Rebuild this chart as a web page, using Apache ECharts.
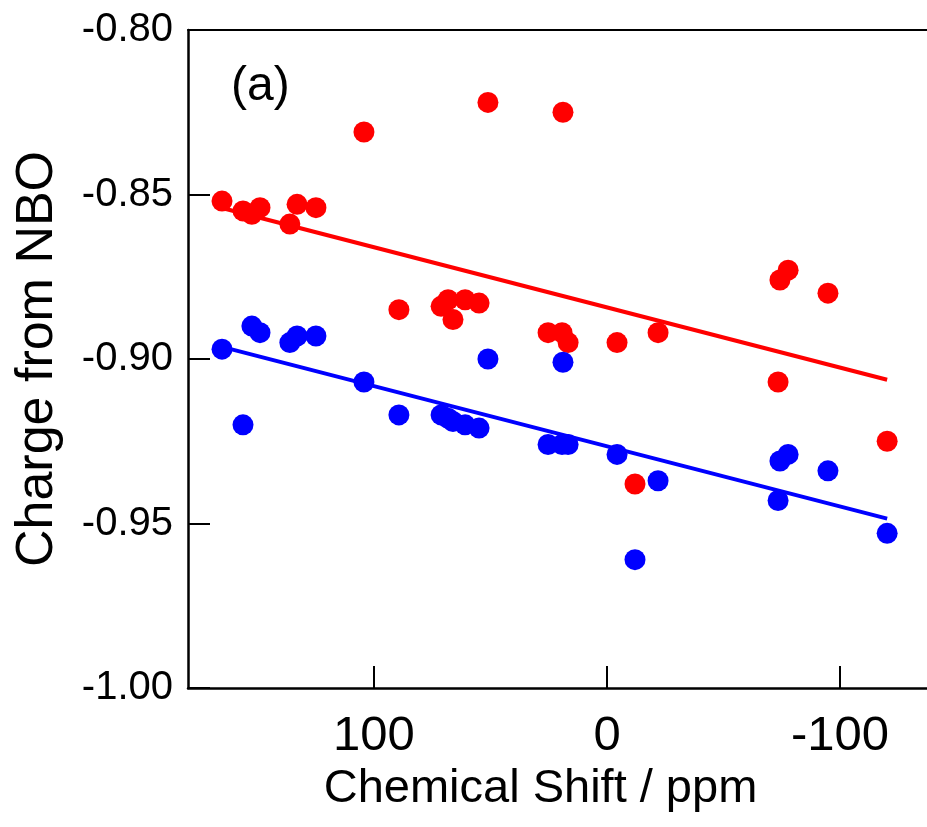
<!DOCTYPE html>
<html lang="en">
<head>
    <meta charset="UTF-8">
    <title>Charge from NBO vs Chemical Shift</title>
    <script src="https://cdn.jsdelivr.net/npm/echarts@6/dist/echarts.min.js"></script>
    <style type="text/css">
        html, body{
            margin: 0;
            padding: 0;
            background: #fff;
        }
        #main{
            width: 927px;
            height: 827px;
        }
    </style>
</head>
<body>
    <div id="main"></div>
    <script>
        // chemical shift (ppm) of each site, shared by both charge sets
        var shift = [165.2, 156.2, 152.4, 148.9, 136.1, 133.0, 124.9, 104.3, 89.3, 71.2, 68.2, 66.1, 60.9, 54.9, 51.1,
                     25.3, 19.3, 16.7, 18.9, -4.3, -12.0, -21.9, -74.2, -77.7, -73.4, -94.8, -120.2];
        var chargeRed = [-0.852, -0.855, -0.856, -0.854, -0.859, -0.853, -0.854, -0.831, -0.885, -0.884, -0.882, -0.888, -0.882, -0.883, -0.822,
                         -0.892, -0.892, -0.895, -0.825, -0.895, -0.938, -0.892, -0.876, -0.873, -0.907, -0.880, -0.925];
        var chargeBlue = [-0.897, -0.920, -0.890, -0.892, -0.895, -0.893, -0.893, -0.907, -0.917, -0.917, -0.918, -0.919, -0.920, -0.921, -0.900,
                          -0.926, -0.926, -0.926, -0.901, -0.929, -0.961, -0.937, -0.931, -0.929, -0.943, -0.934, -0.953];
        // fitted lines, end points
        var fitShift = [165.2, -120.2];
        var fitRed = [-0.8541, -0.9063];
        var fitBlue = [-0.8963, -0.9485];
        // tick labels
        var xTicks = [100, 0, -100];

        function pairs(xs, ys) {
            var out = [];
            for (var i = 0; i < xs.length; i++) {
                out.push([xs[i], ys[i]]);
            }
            return out;
        }

        var font = 'Liberation Sans, Arial, sans-serif';
        var xMin = -137.3, xMax = 179.8;   // the figure is cut off on the right
        var myChart = echarts.init(document.getElementById('main'));
        var option = {
            animation: false,
            backgroundColor: '#fff',
            title: {
                text: '(a)',
                left: 226,
                top: 58,
                textStyle: {
                    fontFamily: font,
                    fontSize: 48,
                    fontWeight: 'normal',
                    color: '#000'
                }
            },
            grid: {
                left: 188,
                top: 30,
                bottom: 139,
                right: 0
            },
            xAxis: [
                {
                    type: 'value',
                    inverse: true,
                    min: xMin,
                    max: xMax,
                    name: 'Chemical Shift / ppm',
                    nameLocation: 'middle',
                    nameGap: 64,
                    nameTextStyle: {
                        fontFamily: font,
                        fontSize: 47,
                        color: '#000',
                        padding: [0, 34, 0, 0]   // nudge the title left of the grid centre
                    },
                    axisLine: {
                        onZero: false,
                        lineStyle: { color: '#000', width: 2.5 }
                    },
                    axisTick: {
                        inside: true,
                        length: 22,
                        customValues: xTicks,
                        lineStyle: { color: '#000', width: 2 }
                    },
                    axisLabel: {
                        customValues: xTicks,
                        margin: 24,
                        fontFamily: font,
                        fontSize: 49,
                        color: '#000'
                    },
                    splitLine: { show: false }
                },
                {
                    // top frame line only
                    type: 'value',
                    position: 'top',
                    inverse: true,
                    min: xMin,
                    max: xMax,
                    axisLine: {
                        onZero: false,
                        lineStyle: { color: '#000', width: 2 }
                    },
                    axisTick: { show: false },
                    axisLabel: { show: false },
                    splitLine: { show: false }
                }
            ],
            yAxis: {
                type: 'value',
                min: -1.0,
                max: -0.8,
                interval: 0.05,
                name: 'Charge from NBO',
                nameLocation: 'middle',
                nameGap: 124,
                nameTextStyle: {
                    fontFamily: font,
                    fontSize: 52,
                    color: '#000'
                },
                axisLine: {
                    onZero: false,
                    lineStyle: { color: '#000', width: 2.5 }
                },
                axisTick: {
                    inside: true,
                    length: 22,
                    lineStyle: { color: '#000', width: 2 }
                },
                axisLabel: {
                    margin: 15,
                    fontFamily: font,
                    fontSize: 40,
                    color: '#000',
                    formatter: function (v) { return v.toFixed(2); }
                },
                splitLine: { show: false }
            },
            series: [
                {
                    name: 'fit red',
                    type: 'line',
                    data: pairs(fitShift, fitRed),
                    symbol: 'none',
                    lineStyle: { color: '#ff0000', width: 4 },
                    z: 2
                },
                {
                    name: 'fit blue',
                    type: 'line',
                    data: pairs(fitShift, fitBlue),
                    symbol: 'none',
                    lineStyle: { color: '#0000ff', width: 4 },
                    z: 2
                },
                {
                    name: 'red',
                    type: 'scatter',
                    data: pairs(shift, chargeRed),
                    symbol: 'circle',
                    symbolSize: 21,
                    itemStyle: { color: '#ff0000', opacity: 1 },
                    z: 3
                },
                {
                    name: 'blue',
                    type: 'scatter',
                    data: pairs(shift, chargeBlue),
                    symbol: 'circle',
                    symbolSize: 21,
                    itemStyle: { color: '#0000ff', opacity: 1 },
                    z: 3
                }
            ]
        };
        myChart.setOption(option);
    </script>
</body>
</html>
